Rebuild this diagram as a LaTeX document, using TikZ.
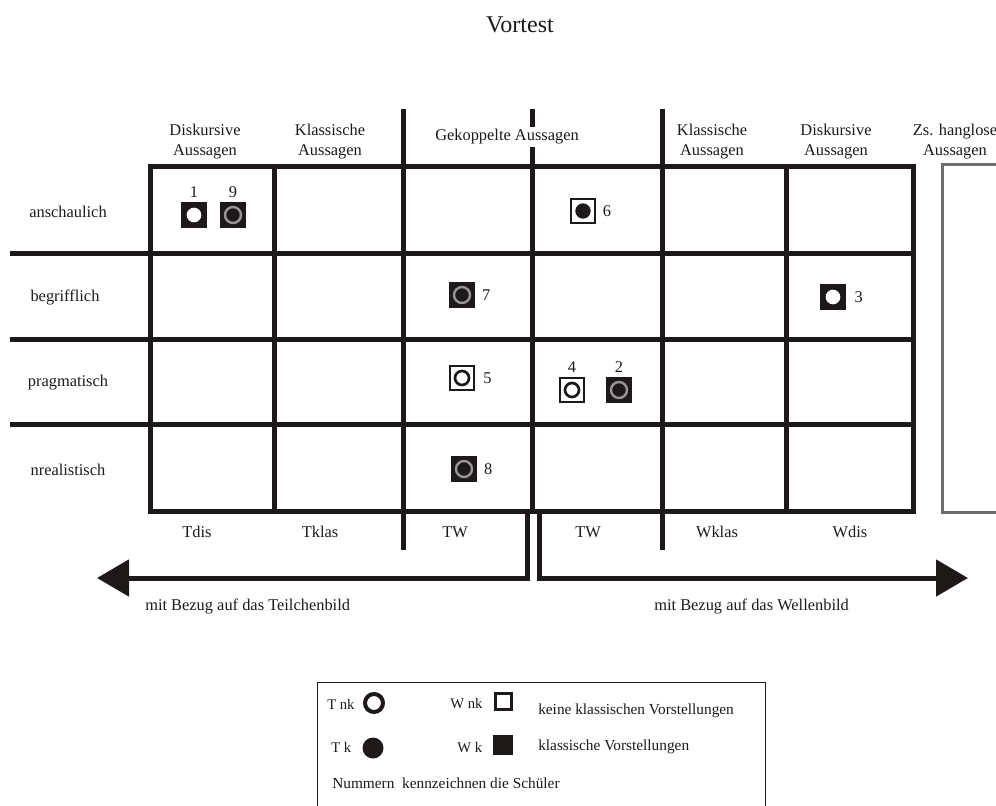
\documentclass[tikz,border=0pt]{standalone}
\usepackage{fontspec}
\setmainfont{Liberation Serif}
\usepackage{tikz}
\usetikzlibrary{arrows.meta, positioning}
\definecolor{inkblack}{RGB}{30,25,25}
\definecolor{ringgray}{RGB}{150,150,150}
\definecolor{boxgray}{RGB}{110,110,110}

\begin{document}
\begin{tikzpicture}[
    x=0.75pt, y=-0.75pt,
    every node/.style={font=\fontsize{12.3}{15}\selectfont, inner sep=0pt, text=inkblack},
    gridline/.style={line width=3.75pt, draw=inkblack},
    head/.style={align=center},
    legend/.style={font=\fontsize{11.5}{14}\selectfont, anchor=base west},
    symlabel/.style={font=\fontsize{11}{12}\selectfont, anchor=base west},
    wk/.style={rectangle, fill=inkblack, minimum size=19.5pt},
    wnk/.style={rectangle, draw=inkblack, line width=1.5pt, fill=white, minimum size=18pt},
    wdisc/.style={circle, fill=white, minimum size=11pt},
    bdisc/.style={circle, fill=inkblack, minimum size=11.5pt},
    gring/.style={circle, draw=ringgray, line width=1.8pt, minimum size=12pt},
    bring/.style={circle, draw=inkblack, line width=2pt, minimum size=10.5pt},
    bigarrow/.style={gridline, -{Triangle[length=24pt, width=27pt]}}
]
\clip (0,0) rectangle (996,806);

% Title
\node[font=\fontsize{18}{20}\selectfont] (title) at (520,25) {Vortest};

% Grid
\draw[gridline] (150,167) rectangle (913,511);
\foreach \y in {253,339,424}
    \draw[gridline] (10,\y) -- (913,\y);
\foreach \x in {274,786}
    \draw[gridline] (\x,167) -- (\x,511);
\foreach \x in {403,662}
    \draw[gridline] (\x,109) -- (\x,550);
\draw[gridline] (532,109) -- (532,511);
\draw[boxgray, line width=2.25pt] (942,165) rectangle (1010,512);

% Column heads
\node[head] (hdis) at (205,142) {Diskursive\\Aussagen};
\node[head] (hklas) at (330,142) {Klassische\\Aussagen};
\node[fill=white, inner sep=2pt] (hkop) at (507,137) {Gekoppelte Aussagen};
\node[head] (hwklas) at (712,142) {Klassische\\Aussagen};
\node[head] (hwdis) at (836,142) {Diskursive\\Aussagen};
\node[head] (hzs) at (955,142) {Zs. hanglose\\Aussagen};

% Row heads
\node (ransch) at (68,212) {anschaulich};
\node (rbegr) at (65,297) {begrifflich};
\node (rprag) at (68,383) {pragmatisch};
\node (rnreal) at (68,470) {nrealistisch};

% Foot labels
\node (ftdis) at (197,532) {Tdis};
\node (ftklas) at (320,532) {Tklas};
\node (fttw) at (455,532) {TW};
\node (fwtw) at (588,532) {TW};
\node (fwklas) at (717,532) {Wklas};
\node (fwdis) at (850,532) {Wdis};

% Arrows
\coordinate (tstart) at (527,511);
\coordinate (ttip) at (97,578);
\coordinate (wstart) at (539,511);
\coordinate (wtip) at (968,578);
\draw[bigarrow] (tstart) |- (ttip);
\draw[bigarrow] (wstart) |- (wtip);
\node[anchor=west] (tbild) at (145,606) {mit Bezug auf das Teilchenbild};
\node[anchor=west] (wbild) at (654,606) {mit Bezug auf das Wellenbild};

% Pupils
\node[wk] (s1) at (194,215) {};
\node[wdisc] (d1) at (s1) {};
\node[above=3pt of s1] (n1) {1};
\node[wk] (s9) at (233,215) {};
\node[gring] (d9) at (s9) {};
\node[above=3pt of s9] (n9) {9};
\node[wnk] (s6) at (583,211) {};
\node[bdisc] (d6) at (s6) {};
\node[right=5pt of s6] (n6) {6};
\node[wk] (s7) at (462,295) {};
\node[gring] (d7) at (s7) {};
\node[right=5pt of s7] (n7) {7};
\node[wk] (s3) at (833,297) {};
\node[wdisc] (d3) at (s3) {};
\node[right=6pt of s3] (n3) {3};
\node[wnk] (s5) at (462,378) {};
\node[bring] (d5) at (s5) {};
\node[right=6pt of s5] (n5) {5};
\node[wnk] (s4) at (572,390) {};
\node[bring] (d4) at (s4) {};
\node[above=3pt of s4] (n4) {4};
\node[wk] (s2) at (619,390) {};
\node[gring] (d2) at (s2) {};
\node[above=3pt of s2] (n2) {2};
\node[wk] (s8) at (464,469) {};
\node[gring] (d8) at (s8) {};
\node[right=5pt of s8] (n8) {8};

% Legend
\draw[line width=0.75pt, inkblack] (317,682) rectangle (765,815);
\node[symlabel] (ltnk) at (327,709) {T nk};
\node[circle, draw=inkblack, line width=3pt, minimum size=13.5pt] (ctnk) at (374,703) {};
\node[symlabel] (ltk) at (331,752) {T k};
\node[circle, fill=inkblack, minimum size=15.75pt] (ctk) at (373,748) {};
\node[symlabel] (lwnk) at (450,708) {W nk};
\node[rectangle, draw=inkblack, line width=2.25pt, minimum size=12pt] (qwnk) at (503,701) {};
\node[symlabel] (lwk) at (457,752) {W k};
\node[rectangle, fill=inkblack, minimum size=15pt] (qwk) at (503,745) {};
\node[legend] (lkeine) at (538,714) {keine klassischen Vorstellungen};
\node[legend] (lklass) at (538,750) {klassische Vorstellungen};
\node[legend] (lnum) at (332,788) {Nummern\ \ kennzeichnen die Schüler};

\end{tikzpicture}
\end{document}
